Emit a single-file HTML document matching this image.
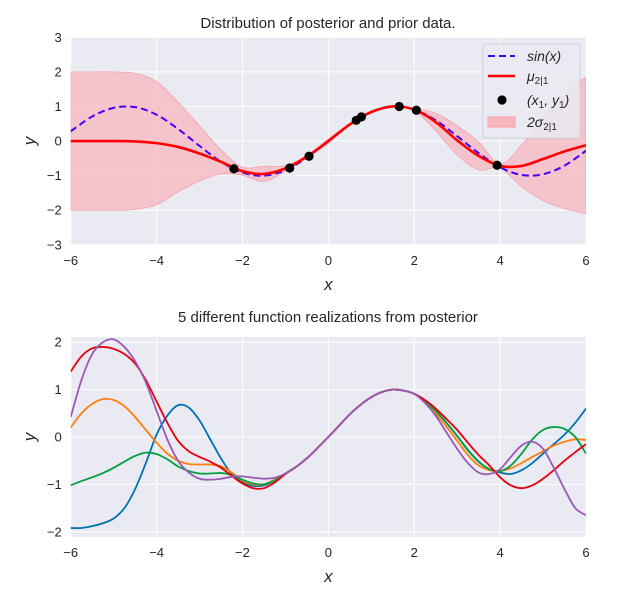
<!DOCTYPE html>
<html><head><meta charset="utf-8"><style>
body{margin:0;background:#fff;}
svg text{font-family:"Liberation Sans","DejaVu Sans",sans-serif;fill:#262626;}
</style></head><body>
<svg id="fig" width="636" height="596" xmlns="http://www.w3.org/2000/svg">
<defs>
<clipPath id="c1"><rect x="70.7" y="37.3" width="515.3" height="207.5"/></clipPath>
<clipPath id="c2"><rect x="70.7" y="337" width="515.3" height="200"/></clipPath>
</defs>
<text x="328" y="28" text-anchor="middle" font-size="15">Distribution of posterior and prior data.</text>
<text x="328" y="322" text-anchor="middle" font-size="15">5 different function realizations from posterior</text>
<g id="g1"></g><g id="g2"></g>
</svg>
<script>
// ---- data ----
const gridX = [-6,-5.5,-5,-4.5,-4,-3.5,-3,-2.5,-2,-1.5,-1,-0.5,0,0.5,1,1.5,2,2.5,3,3.5,4,4.5,5,5.5,6];
const sinVals = [0.28,0.71,0.96,0.98,0.76,0.35,-0.14,-0.6,-0.91,-1.0,-0.84,-0.48,0,0.48,0.84,1.0,0.91,0.6,0.14,-0.35,-0.76,-0.98,-0.96,-0.71,-0.28];
const meanVals = [0,0,0,-0.01,-0.06,-0.17,-0.36,-0.6,-0.87,-0.95,-0.79,-0.45,0,0.48,0.84,1.0,0.91,0.55,0.02,-0.43,-0.72,-0.72,-0.52,-0.3,-0.12];
const sdVals = [2,2,2,1.97,1.78,1.3,0.8,0.35,0.12,0.22,0.08,0.03,0.06,0.03,0.03,0.02,0.03,0.25,0.42,0.4,0.06,0.6,1.2,1.65,1.98];
const obsX = [-2.2,-0.9,-0.45,0.65,0.77,1.65,2.05,3.93];
const obsY = [-0.8,-0.78,-0.44,0.6,0.7,1.0,0.89,-0.7];
const yTicks1 = [3,2,1,0,-1,-2,-3];
const xTicks = [-6,-4,-2,0,2,4,6];
const yTicks2 = [2,1,0,-1,-2];
const sampX = [-6,-5.75,-5.5,-5.25,-5,-4.75,-4.5,-4.25,-4,-3.75,-3.5,-3.25,-3,-2.75,-2.5,-2.25,-2,-1.75,-1.5,-1.25,-1,-0.75,-0.5,-0.25,0,0.25,0.5,0.75,1,1.25,1.5,1.75,2,2.25,2.5,2.75,3,3.25,3.5,3.75,4,4.25,4.5,4.75,5,5.25,5.5,5.75,6];
const blueVals = [-1.92,-1.92,-1.88,-1.82,-1.72,-1.5,-1.1,-0.55,0.05,0.45,0.67,0.62,0.35,-0.05,-0.45,-0.78,-0.95,-1.03,-1.02,-0.92,-0.77,-0.63,-0.45,-0.23,0,0.24,0.48,0.68,0.84,0.95,1.0,0.98,0.91,0.76,0.55,0.3,0.02,-0.27,-0.52,-0.68,-0.75,-0.78,-0.7,-0.55,-0.35,-0.15,0.05,0.3,0.6];
const orangeVals = [0.2,0.5,0.7,0.8,0.78,0.65,0.42,0.15,-0.12,-0.35,-0.5,-0.57,-0.58,-0.58,-0.62,-0.75,-0.92,-1.0,-1.0,-0.9,-0.77,-0.63,-0.45,-0.23,0,0.24,0.48,0.68,0.84,0.95,1.0,0.98,0.91,0.74,0.5,0.22,-0.08,-0.38,-0.6,-0.7,-0.72,-0.66,-0.55,-0.42,-0.3,-0.18,-0.1,-0.05,-0.06];
const greenVals = [-1.02,-0.93,-0.85,-0.76,-0.65,-0.52,-0.4,-0.33,-0.36,-0.47,-0.62,-0.72,-0.77,-0.77,-0.76,-0.8,-0.9,-0.98,-1.0,-0.92,-0.77,-0.63,-0.45,-0.23,0,0.24,0.48,0.68,0.84,0.95,1.0,0.98,0.91,0.76,0.55,0.3,0.02,-0.28,-0.52,-0.68,-0.72,-0.6,-0.35,-0.05,0.15,0.21,0.17,0,-0.35];
const redVals = [1.38,1.7,1.87,1.9,1.86,1.75,1.55,1.2,0.75,0.3,-0.08,-0.3,-0.42,-0.52,-0.65,-0.82,-0.98,-1.08,-1.08,-0.96,-0.78,-0.63,-0.45,-0.23,0,0.24,0.48,0.68,0.84,0.95,1.0,0.98,0.91,0.78,0.6,0.38,0.15,-0.12,-0.38,-0.6,-0.85,-1.02,-1.08,-1.02,-0.88,-0.7,-0.5,-0.32,-0.15];
const purpleVals = [0.42,1.2,1.75,2.0,2.06,1.9,1.6,1.15,0.55,-0.05,-0.5,-0.75,-0.88,-0.9,-0.88,-0.84,-0.83,-0.86,-0.88,-0.86,-0.77,-0.63,-0.45,-0.23,0,0.24,0.48,0.68,0.84,0.95,1.0,0.98,0.91,0.72,0.45,0.1,-0.25,-0.55,-0.75,-0.78,-0.68,-0.42,-0.18,-0.1,-0.25,-0.65,-1.1,-1.5,-1.65];

const NS='http://www.w3.org/2000/svg';
function mk(parent,tag,attrs){const e=document.createElementNS(NS,tag);for(const k in attrs)e.setAttribute(k,attrs[k]);parent.appendChild(e);return e;}
function smooth(pts){let d='M'+pts[0][0].toFixed(2)+','+pts[0][1].toFixed(2);
 for(let i=0;i<pts.length-1;i++){const p0=pts[Math.max(0,i-1)],p1=pts[i],p2=pts[i+1],p3=pts[Math.min(pts.length-1,i+2)];
  d+=' C'+(p1[0]+(p2[0]-p0[0])/6).toFixed(2)+','+(p1[1]+(p2[1]-p0[1])/6).toFixed(2)+' '+(p2[0]-(p3[0]-p1[0])/6).toFixed(2)+','+(p2[1]-(p3[1]-p1[1])/6).toFixed(2)+' '+p2[0].toFixed(2)+','+p2[1].toFixed(2);}
 return d;}
function axes(g,L,T,W,H,xs,ys,yt,prefix){
 const r=mk(g,'rect',{x:L,y:T,width:W,height:H,fill:'#eaeaf2'});
 
 
 xTicks.forEach(v=>{const l=mk(g,'line',{x1:xs(v),x2:xs(v),y1:T,y2:T+H,stroke:'#fff','stroke-width':1});
  
  
  const t=mk(g,'text',{x:xs(v),y:T+H+20,'text-anchor':'middle','font-size':13});t.textContent=v<0?'\u2212'+(-v):v;
  
  });
 yt.forEach(v=>{const l=mk(g,'line',{x1:L,x2:L+W,y1:ys(v),y2:ys(v),stroke:'#fff','stroke-width':1});
  
  
  const t=mk(g,'text',{x:L-9,y:ys(v)+4.5,'text-anchor':'end','font-size':13});t.textContent=v<0?'\u2212'+(-v):v;
  
  });
 const xl=mk(g,'text',{x:L+W/2,y:T+H+45,'text-anchor':'middle','font-size':17,'font-style':'italic'});xl.textContent='x';
 
 
 const yl=mk(g,'text',{x:0,y:0,'text-anchor':'middle','font-size':17,'font-style':'italic',transform:'translate(35,'+(T+H/2)+') rotate(-90)'});yl.textContent='y';
 
 
}
// top chart
(function(){
 const g=document.getElementById('g1');const L=70.7,T=37.3,W=515.3,H=207.5;
 const xs=v=>L+(v+6)/12*W, ys=v=>T+(3-v)/6*H;
 axes(g,L,T,W,H,xs,ys,yTicks1,'top');
 const cg=mk(g,'g',{'clip-path':'url(#c1)'});
 const up=gridX.map((x,i)=>[xs(x),ys(meanVals[i]+sdVals[i])]);
 const lo=gridX.map((x,i)=>[xs(x),ys(meanVals[i]-sdVals[i])]).reverse();
 const band=mk(cg,'path',{d:smooth(up)+' L'+smooth(lo).slice(1)+' Z',fill:'#f7b6bd','fill-opacity':0.75,stroke:'#f4a3ab','stroke-width':0.8});
 
 
 const s=mk(cg,'path',{d:smooth(gridX.map((x,i)=>[xs(x),ys(sinVals[i])])),fill:'none',stroke:'#4400ff','stroke-width':2,'stroke-dasharray':'7,4'});
 
 
 const m=mk(cg,'path',{d:smooth(gridX.map((x,i)=>[xs(x),ys(meanVals[i])])),fill:'none',stroke:'#ff0000','stroke-width':2.6});
 
 
 obsX.forEach((x,i)=>{const c=mk(cg,'circle',{cx:xs(x),cy:ys(obsY[i]),r:4.6,fill:'#000'});
  
  });
 const lg=mk(g,'g',{});
 
 
 mk(lg,'rect',{x:482.7,y:44,width:97.3,height:94,rx:3,fill:'#eaeaf2','fill-opacity':0.85,stroke:'#d0d0d8','stroke-width':1});
 mk(lg,'line',{x1:488,x2:515,y1:56,y2:56,stroke:'#4400ff','stroke-width':2,'stroke-dasharray':'7,4'});
 mk(lg,'line',{x1:488,x2:515,y1:76,y2:76,stroke:'#ff0000','stroke-width':2.6});
 mk(lg,'circle',{cx:502,cy:100,r:4.6,fill:'#000'});
 mk(lg,'rect',{x:488,y:117,width:27,height:10,fill:'#f7b6bd',stroke:'#f4a3ab'});
 const labs=[[['sin(x)',''],61],[['\u03bc','2|1'],81],[['(x','1',', y','1',')'],105],[['2\u03c3','2|1'],127]];
 labs.forEach(a=>{const t=mk(lg,'text',{x:527,y:a[1],'font-size':14,'font-style':'italic'});
  a[0].forEach((part,k)=>{if(!part)return;const sp=mk(t,'tspan',{});sp.textContent=part;
   if(k%2===1){sp.setAttribute('font-size','10');sp.setAttribute('font-style','normal');sp.setAttribute('dy','3');}
   else if(k>0){sp.setAttribute('dy','-3');}});
  
  });
})();
// bottom chart
(function(){
 const g=document.getElementById('g2');const L=70.7,T=337,W=515.3,H=200;
 const ys=v=>437-v*47.4, xs=v=>L+(v+6)/12*W;
 axes(g,L,T,W,H,xs,ys,yTicks2,'bottom');
 const cg=mk(g,'g',{'clip-path':'url(#c2)'});
 const series=[[blueVals,'#0072b2','sample-1-blue'],[orangeVals,'#ff7f0e','sample-2-orange'],[greenVals,'#00a040','sample-3-green'],[redVals,'#e8000b','sample-4-red'],[purpleVals,'#9b59b6','sample-5-purple']];
 series.forEach(s=>{const p=mk(cg,'path',{d:smooth(sampX.map((x,i)=>[xs(x),ys(s[0][i])])),fill:'none',stroke:s[1],'stroke-width':1.8});
  
  });
})();
</script>
</body></html>
